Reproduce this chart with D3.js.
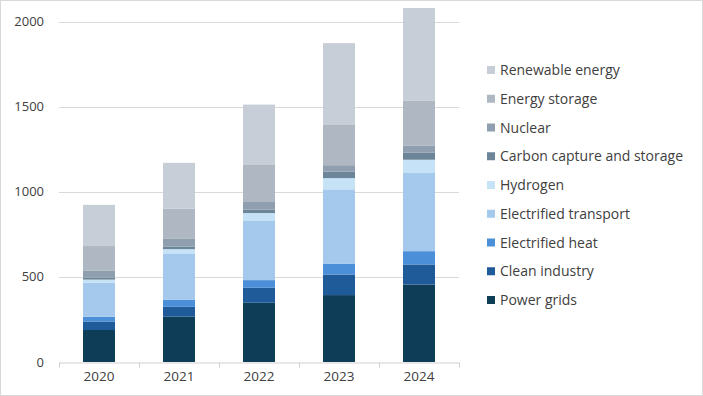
<!DOCTYPE html>
<html>
<head>
<meta charset="utf-8">
<script src="https://cdn.jsdelivr.net/npm/d3@7"></script>
<style>
  body { margin: 0; background: #fff; }
  svg text { font-family: "Open Sans", "Noto Sans", sans-serif; fill: #404040; }
</style>
</head>
<body>
<div id="chart"></div>
<script>
// data
var years = ["2020", "2021", "2022", "2023", "2024"];
var seriesNames = ["Power grids", "Clean industry", "Electrified heat", "Electrified transport",
  "Hydrogen", "Carbon capture and storage", "Nuclear", "Energy storage", "Renewable energy"];
var powerGrids    = [188, 266, 348, 393, 455];
var cleanIndustry = [50, 58, 88, 121, 118];
var elecHeat      = [28, 42, 45, 64, 78];
var elecTransport = [200, 272, 347, 436, 459];
var hydrogen      = [18, 25, 47, 66, 78];
var ccs           = [11, 14, 20, 38, 41];
var nuclear       = [43, 46, 45, 38, 43];
var storage       = [143, 178, 221, 240, 264];
var renewable     = [242, 269, 351, 477, 543];
var yTicks = [0, 500, 1000, 1500, 2000];

var colors = ["#0e3d58", "#1f5b98", "#4b8fd8", "#a5c9ec", "#c6e2f6",
  "#6c8599", "#8f9faf", "#aeb7c2", "#c8ced7"];

var allSeries = [powerGrids, cleanIndustry, elecHeat, elecTransport, hydrogen, ccs, nuclear, storage, renewable];

var table = years.map(function(y, i) {
  var row = { year: y };
  seriesNames.forEach(function(n, k) { row[n] = allSeries[k][i]; });
  return row;
});

var width = 703, height = 396;
var svg = d3.select("#chart").append("svg")
  .attr("width", width)
  .attr("height", height);

// frame
svg.append("rect")
  .attr("x", 0.5).attr("y", 0.5)
  .attr("width", width - 1).attr("height", height - 1)
  .style("fill", "none")
  .style("stroke", "#d9d9d9");

var x = d3.scaleBand()
  .domain(years)
  .range([59, 459])
  .paddingInner(0.6)
  .paddingOuter(0.3);

var y = d3.scaleLinear()
  .domain([0, 2000])
  .range([362, 21.5]);

// gridlines
svg.append("g")
  .selectAll("line")
  .data(yTicks.slice(1))
  .enter().append("line")
  .attr("x1", 59).attr("x2", 459)
  .attr("y1", function(d) { return Math.round(y(d)) + 0.5; })
  .attr("y2", function(d) { return Math.round(y(d)) + 0.5; })
  .style("stroke", "#d9d9d9")
  .style("stroke-width", 1);

// y labels
svg.append("g")
  .selectAll("text")
  .data(yTicks)
  .enter().append("text")
  .attr("x", 44)
  .attr("y", function(d) { return y(d) + 4.5; })
  .attr("text-anchor", "end")
  .style("font-size", "13px")
  .text(function(d) { return d; });

// stacked bars
var stack = d3.stack().keys(seriesNames);
var layers = stack(table);

svg.append("g")
  .selectAll("g")
  .data(layers)
  .enter().append("g")
  .style("fill", function(d, i) { return colors[i]; })
  .selectAll("rect")
  .data(function(d) { return d; })
  .enter().append("rect")
  .attr("x", function(d) { return x(d.data.year); })
  .attr("width", x.bandwidth())
  .attr("y", function(d) { return y(d[1]); })
  .attr("height", function(d) { return y(d[0]) - y(d[1]); });

// x axis
var xAxis = d3.axisBottom(x).tickSize(0).tickPadding(9);
var gx = svg.append("g")
  .attr("transform", "translate(0," + 362.5 + ")")
  .call(xAxis);
gx.select(".domain").style("stroke", "#d0d0d0");
gx.selectAll("text")
  .style("font-size", "13.5px")
  .style("font-family", "\"Open Sans\", \"Noto Sans\", sans-serif")
  .style("fill", "#404040");

// category boundary ticks
var bounds = d3.range(years.length + 1).map(function(i) { return 59 + i * x.step(); });
gx.selectAll(".bound")
  .data(bounds)
  .enter().append("line")
  .attr("class", "bound")
  .attr("x1", function(d) { return Math.round(d) + 0.5; })
  .attr("x2", function(d) { return Math.round(d) + 0.5; })
  .attr("y1", 0).attr("y2", 5)
  .style("stroke", "#d0d0d0");

// legend, top entry is the top of the stack
var legendItems = seriesNames.map(function(n, i) { return { name: n, color: colors[i] }; }).reverse();
var legend = svg.append("g")
  .selectAll("g")
  .data(legendItems)
  .enter().append("g")
  .attr("transform", function(d, i) { return "translate(487," + (70 + i * 28.75) + ")"; });

legend.append("rect")
  .attr("x", 0).attr("y", -4)
  .attr("width", 8).attr("height", 8)
  .style("fill", function(d) { return d.color; });

legend.append("text")
  .attr("x", 13)
  .attr("y", 5)
  .style("font-size", "14px")
  .text(function(d) { return d.name; });
</script>
</body>
</html>
